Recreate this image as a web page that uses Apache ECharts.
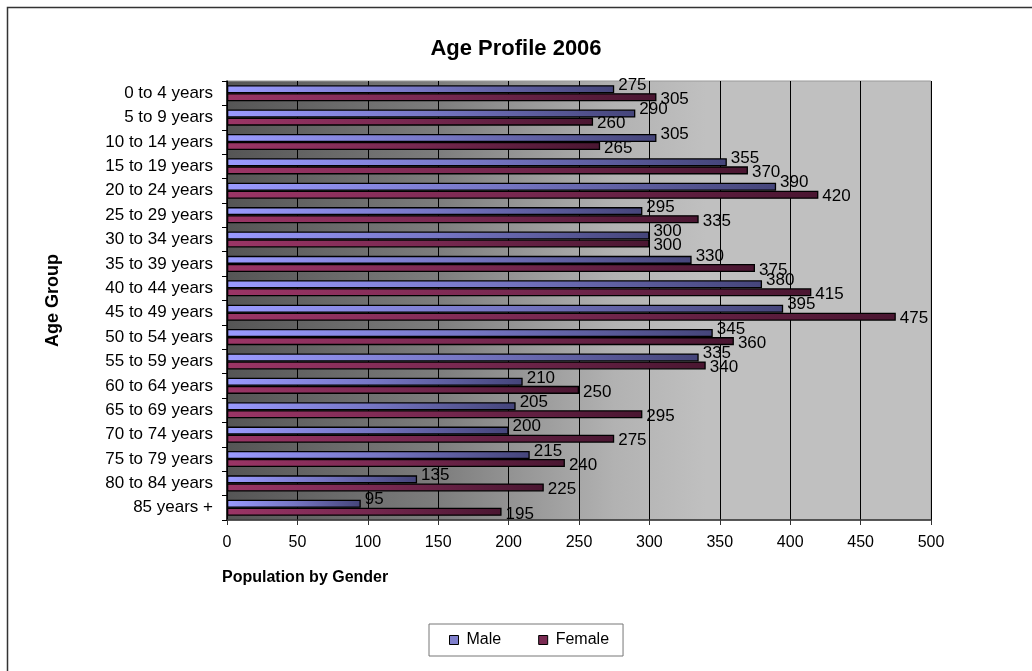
<!DOCTYPE html>
<html>
<head>
<meta charset="utf-8">
<script src="https://cdn.jsdelivr.net/npm/echarts@6/dist/echarts.min.js"></script>
<style>
  html, body { margin: 0; padding: 0; background: #fff; }
  #chart { width: 1032px; height: 671px; }
</style>
</head>
<body>
<div id="chart"></div>
<script>
// data
var ageGroups = ['0 to 4 years', '5 to 9 years', '10 to 14 years', '15 to 19 years', '20 to 24 years',
  '25 to 29 years', '30 to 34 years', '35 to 39 years', '40 to 44 years', '45 to 49 years',
  '50 to 54 years', '55 to 59 years', '60 to 64 years', '65 to 69 years', '70 to 74 years',
  '75 to 79 years', '80 to 84 years', '85 years +'];
var maleValues = [275, 290, 305, 355, 390, 295, 300, 330, 380, 395, 345, 335, 210, 205, 200, 215, 135, 95];
var femaleValues = [305, 260, 265, 370, 420, 335, 300, 375, 415, 475, 360, 340, 250, 295, 275, 240, 225, 195];
var xTicks = [0, 500, 50];

var chart = echarts.init(document.getElementById('chart'));
var font = 'Arial, "Liberation Sans", sans-serif';

var option = {
  animation: false,
  textStyle: {fontFamily: font},
  graphic: [
    {
      type: 'rect',
      shape: {x: 7.5, y: 7.5, width: 1040, height: 680},
      style: {fill: 'none', stroke: '#333', lineWidth: 1.5}
    }
  ],
  title: {
    text: 'Age Profile 2006',
    left: 'center',
    top: 33,
    textStyle: {fontFamily: font, fontSize: 22, fontWeight: 'bold', color: '#000'}
  },
  legend: {
    bottom: 15,
    left: 429,
    orient: 'horizontal',
    padding: [8, 14, 8, 20],
    itemGap: 37,
    itemWidth: 9,
    itemHeight: 9,
    borderColor: '#777',
    borderWidth: 1,
    textStyle: {fontFamily: font, fontSize: 16, color: '#000', padding: [0, 0, 0, 3]},
    data: [
      {name: 'Male', icon: 'rect', itemStyle: {color: '#7f7fcc', borderColor: '#000', borderWidth: 1}},
      {name: 'Female', icon: 'rect', itemStyle: {color: '#7a2a52', borderColor: '#000', borderWidth: 1}}
    ]
  },
  grid: {
    left: 227,
    right: 101,
    top: 81,
    bottom: 151,
    show: true,
    borderColor: '#999',
    borderWidth: 1,
    backgroundColor: new echarts.graphic.LinearGradient(0, 0, 1, 0, [
      {offset: 0, color: '#555555'},
      {offset: 0.3, color: '#7d7d7d'},
      {offset: 0.55, color: '#b2b2b2'},
      {offset: 0.68, color: '#c0c0c0'},
      {offset: 1, color: '#c0c0c0'}
    ])
  },
  xAxis: {
    type: 'value',
    min: xTicks[0],
    max: xTicks[1],
    interval: xTicks[2],
    name: 'Population by Gender',
    nameLocation: 'start',
    nameGap: 0,
    nameTextStyle: {
      fontFamily: font, fontSize: 16, fontWeight: 'bold', color: '#000',
      align: 'left', verticalAlign: 'top', padding: [50, 0, 0, -5]
    },
    axisLine: {show: true, lineStyle: {color: '#333', width: 1.5}},
    axisTick: {show: true, length: 5, lineStyle: {color: '#333'}},
    axisLabel: {fontFamily: font, fontSize: 16, color: '#000', margin: 15},
    splitLine: {show: true, lineStyle: {color: '#000', width: 1}}
  },
  yAxis: {
    type: 'category',
    data: ageGroups,
    inverse: true,
    name: 'Age Group',
    nameLocation: 'middle',
    nameGap: 165,
    nameTextStyle: {fontFamily: font, fontSize: 18, fontWeight: 'bold', color: '#000'},
    axisLine: {show: true, lineStyle: {color: '#000', width: 1.5}},
    axisTick: {show: true, length: 5, lineStyle: {color: '#000'}},
    axisLabel: {fontFamily: font, fontSize: 17, color: '#000', margin: 14}
  },
  series: [
    {
      name: 'Male',
      type: 'bar',
      data: maleValues,
      barGap: '0%',
      barCategoryGap: '34%',
      itemStyle: {
        borderColor: '#000',
        borderWidth: 1.3,
        color: new echarts.graphic.LinearGradient(0, 0, 1, 0, [
          {offset: 0, color: '#9a9aff'},
          {offset: 0.5, color: '#7676c4'},
          {offset: 1, color: '#45457a'}
        ])
      },
      label: {
        show: true,
        position: 'right',
        distance: 4,
        offset: [0, -4],
        fontFamily: font,
        fontSize: 17,
        color: '#000'
      }
    },
    {
      name: 'Female',
      type: 'bar',
      data: femaleValues,
      barGap: '0%',
      barCategoryGap: '34%',
      itemStyle: {
        borderColor: '#000',
        borderWidth: 1.3,
        color: new echarts.graphic.LinearGradient(0, 0, 1, 0, [
          {offset: 0, color: '#9b3566'},
          {offset: 0.5, color: '#772850'},
          {offset: 1, color: '#4a1631'}
        ])
      },
      label: {
        show: true,
        position: 'right',
        distance: 4,
        offset: [0, 2],
        fontFamily: font,
        fontSize: 17,
        color: '#000'
      }
    }
  ]
};

chart.setOption(option);
</script>
</body>
</html>
